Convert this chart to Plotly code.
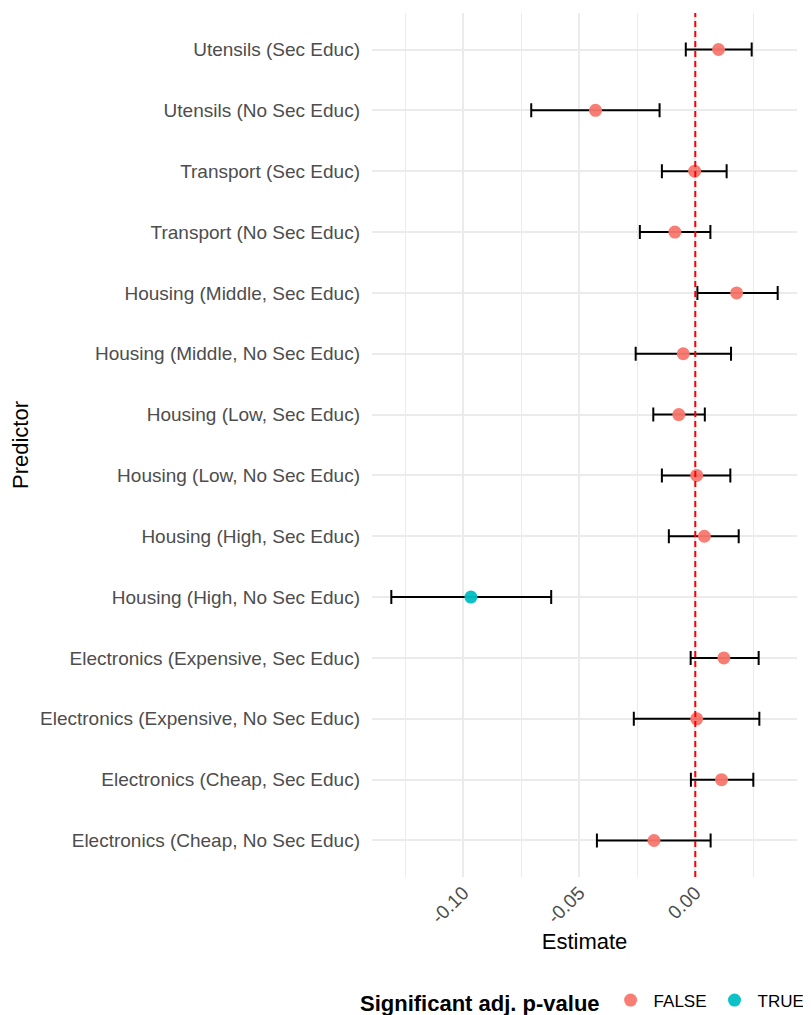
import plotly.graph_objects as go

# Categories from bottom to top
predictors = [
    "Electronics (Cheap, No Sec Educ)",
    "Electronics (Cheap, Sec Educ)",
    "Electronics (Expensive, No Sec Educ)",
    "Electronics (Expensive, Sec Educ)",
    "Housing (High, No Sec Educ)",
    "Housing (High, Sec Educ)",
    "Housing (Low, No Sec Educ)",
    "Housing (Low, Sec Educ)",
    "Housing (Middle, No Sec Educ)",
    "Housing (Middle, Sec Educ)",
    "Transport (No Sec Educ)",
    "Transport (Sec Educ)",
    "Utensils (No Sec Educ)",
    "Utensils (Sec Educ)",
]
estimate = [-0.0178, 0.0113, 0.0006, 0.0123, -0.0967, 0.0039, 0.0006, -0.0071,
            -0.0052, 0.0178, -0.0088, -0.0003, -0.0430, 0.0100]
ci_low = [-0.0424, -0.0019, -0.0265, -0.0020, -0.1310, -0.0114, -0.0144, -0.0181,
          -0.0257, 0.0009, -0.0239, -0.0144, -0.0707, -0.0041]
ci_high = [0.0066, 0.0250, 0.0276, 0.0273, -0.0621, 0.0187, 0.0151, 0.0041,
           0.0154, 0.0355, 0.0065, 0.0135, -0.0154, 0.0243]
significant = [False, False, False, False, True, False, False, False,
               False, False, False, False, False, False]

x_tickvals = [-0.10, -0.05, 0.00]
x_ticktext = ["-0.10", "-0.05", "0.00"]

colors = {False: "#F8766D", True: "#00BFC4"}
FONT = "Liberation Sans, Arial, Helvetica, sans-serif"

# page body has an 8px default margin; figure sized to fill the rest
W, H = 803, 1007

fig = go.Figure()
for flag in [False, True]:
    idx = [i for i, s in enumerate(significant) if s == flag]
    fig.add_trace(go.Scatter(
        x=[estimate[i] for i in idx],
        y=[predictors[i] for i in idx],
        mode="markers",
        name="TRUE" if flag else "FALSE",
        marker=dict(color=colors[flag], size=13, opacity=0.95, line=dict(width=0)),
        error_x=dict(
            type="data", symmetric=False,
            array=[ci_high[i] - estimate[i] for i in idx],
            arrayminus=[estimate[i] - ci_low[i] for i in idx],
            color="black", thickness=2, width=7,
        ),
    ))

xmin = min(ci_low)
xmax = max(ci_high)
pad = 0.05 * (xmax - xmin)

fig.add_vline(x=0, line=dict(color="#FF0000", dash="6px,4px", width=2))

fig.update_layout(
    width=W, height=H,
    margin=dict(l=364, r=14, t=4.5, b=137.5, autoexpand=False),
    paper_bgcolor="white", plot_bgcolor="white",
    font=dict(family=FONT, color="#4D4D4D", size=19),
    showlegend=True,
    legend=dict(
        orientation="h",
        xref="container", yref="container",
        x=350 / W, xanchor="left", y=1 - 994 / H, yanchor="middle",
        title=dict(text="<b>Significant adj. p-value</b>",
                   font=dict(size=22, color="black", family=FONT)),
        font=dict(size=17, color="black", family=FONT),
        itemwidth=36,
    ),
    xaxis=dict(
        range=[xmin - pad, xmax + pad],
        tickvals=x_tickvals, ticktext=x_ticktext,
        tickangle=-45,
        showgrid=True, gridcolor="#EBEBEB", gridwidth=1.6,
        minor=dict(tick0=0, dtick=0.025, showgrid=True, gridcolor="#EBEBEB", gridwidth=1.2),
        zeroline=False, showline=False, ticks="",
        automargin=False,
        tickfont=dict(size=19, color="#4D4D4D"),
        title=dict(text="Estimate", font=dict(size=22, color="black"), standoff=6),
    ),
    yaxis=dict(
        type="category", categoryorder="array", categoryarray=predictors,
        range=[-0.6, len(predictors) - 0.4],
        showgrid=True, gridcolor="#EBEBEB", gridwidth=1.6,
        zeroline=False, showline=False, ticks="",
        automargin=False,
        ticklabelstandoff=11,
        tickfont=dict(size=19, color="#4D4D4D"),
        title=dict(text="Predictor", font=dict(size=22, color="black"), standoff=7),
    ),
)

fig.write_html("out.html")
